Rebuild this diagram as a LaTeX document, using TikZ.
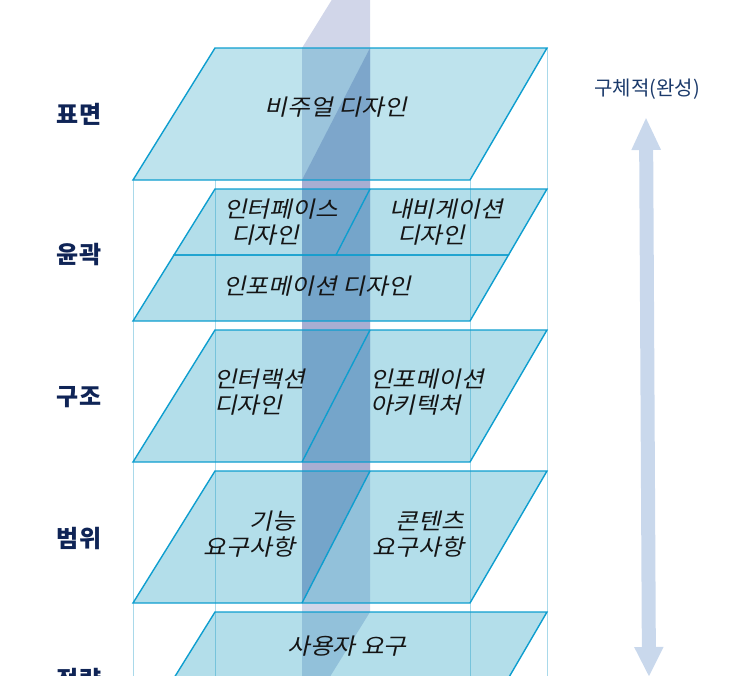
\documentclass[tikz,border=0pt]{standalone}
\usepackage{fontspec}
\usetikzlibrary{arrows.meta}
\newfontfamily\kr{Noto Sans CJK KR}
\newfontfamily\krit[FakeSlant=0.22,FakeStretch=1.1]{Noto Sans CJK KR}
\definecolor{edgec}{HTML}{0E9ECF}
\definecolor{layerfill}{HTML}{0291B9}
\definecolor{framec}{HTML}{A9D9EA}
\definecolor{beamlight}{HTML}{D1D6E9}
\definecolor{beamdark}{HTML}{A8AED2}
\definecolor{navy}{HTML}{0F2456}
\definecolor{navytwo}{HTML}{1B3A6B}
\definecolor{arrowc}{HTML}{C9D8EC}
\definecolor{textc}{HTML}{151515}
\begin{document}
\begin{tikzpicture}[x=1pt,y=-1pt,
  framel/.style={draw=framec, line width=0.8pt},
  layerbox/.style={fill=layerfill, fill opacity=0.3, draw=edgec, line width=1.4pt, line join=miter},
  toplayer/.style={layerbox, fill opacity=0.26},
  splitl/.style={draw=edgec, line width=1.4pt},
  layertext/.style={font=\krit\fontsize{22.5}{26}\selectfont, text=textc, inner sep=0pt},
  sidelabel/.style={font=\kr\bfseries\fontsize{24}{26}\selectfont, text=navy, inner sep=0pt},
  scalelabel/.style={font=\kr\fontsize{20}{22}\selectfont, text=navytwo, inner sep=0pt},
  scalearrow/.style={draw=arrowc, line width=14pt,
    {Triangle[length=33pt,width=27pt]}-{Triangle[length=30pt,width=27pt]}}
]
\useasboundingbox (0,0) rectangle (730,675);
\clip (0,0) rectangle (730,675);

% frame lines of the stack
\draw[framel] (133,180) -- (133,700);
\draw[framel] (215,180) -- (215,700);
\draw[framel] (470,180) -- (470,700);
\draw[framel] (547,48) -- (547,700);

% vertical beam through the planes
\fill[beamlight] (302,48) -- (370,-62) -- (370,612) -- (302,722) -- cycle;
\fill[beamdark] (370,48) -- (370,471) -- (302,603) -- (302,180) -- cycle;

% layer 1: surface
\path[toplayer] (215,48) -- (547,48) -- (470,180) -- (133,180) -- cycle;
% layer 2: skeleton
\path[layerbox] (215,189) -- (547,189) -- (508.5,255) -- (174,255) -- cycle;
\path[layerbox] (174,255) -- (508.5,255) -- (470,321) -- (133,321) -- cycle;
\draw[splitl] (370,189) -- (336,255);
% layer 3: structure
\path[layerbox] (215,330) -- (547,330) -- (470,462) -- (133,462) -- cycle;
\draw[splitl] (370,330) -- (302,462);
% layer 4: scope
\path[layerbox] (215,471) -- (547,471) -- (470,603) -- (133,603) -- cycle;
\draw[splitl] (370,471) -- (302,603);
% layer 5: strategy
\path[layerbox] (215,612) -- (547,612) -- (470,744) -- (133,744) -- cycle;

% texts in the planes
\node[layertext] (vis) at (336,107) {비주얼 디자인};
\node[layertext, align=left, anchor=west] (iface) at (224,222.5) {인터페이스\\\hspace*{7pt}디자인};
\node[layertext, align=left, anchor=west] (navi) at (389,222.5) {내비게이션\\\hspace*{8pt}디자인};
\node[layertext] (infod) at (317,286) {인포메이션 디자인};
\node[layertext, align=left, anchor=west] (inter) at (214,392.5) {인터랙션\\디자인};
\node[layertext, align=left, anchor=west] (ia) at (370,392.5) {인포메이션\\아키텍처};
\node[layertext, align=right, anchor=east] (func) at (295,534) {기능\\요구사항};
\node[layertext, align=right, anchor=east] (cont) at (464,534) {콘텐츠\\요구사항};
\node[layertext] (user) at (347,646) {사용자 요구};

% side labels
\node[sidelabel] (surface) at (79,114) {표면};
\node[sidelabel] (skeleton) at (79,255) {윤곽};
\node[sidelabel] (structure) at (79,397) {구조};
\node[sidelabel] (scope) at (79,538) {범위};
\node[sidelabel] (strategy) at (79,680) {전략};

% concreteness scale
\node[scalelabel] (concrete) at (647,89) {구체적(완성)};
\coordinate (atop) at (646,117);
\coordinate (abot) at (649,677);
\draw[scalearrow] (atop) -- (abot);
\end{tikzpicture}
\end{document}
